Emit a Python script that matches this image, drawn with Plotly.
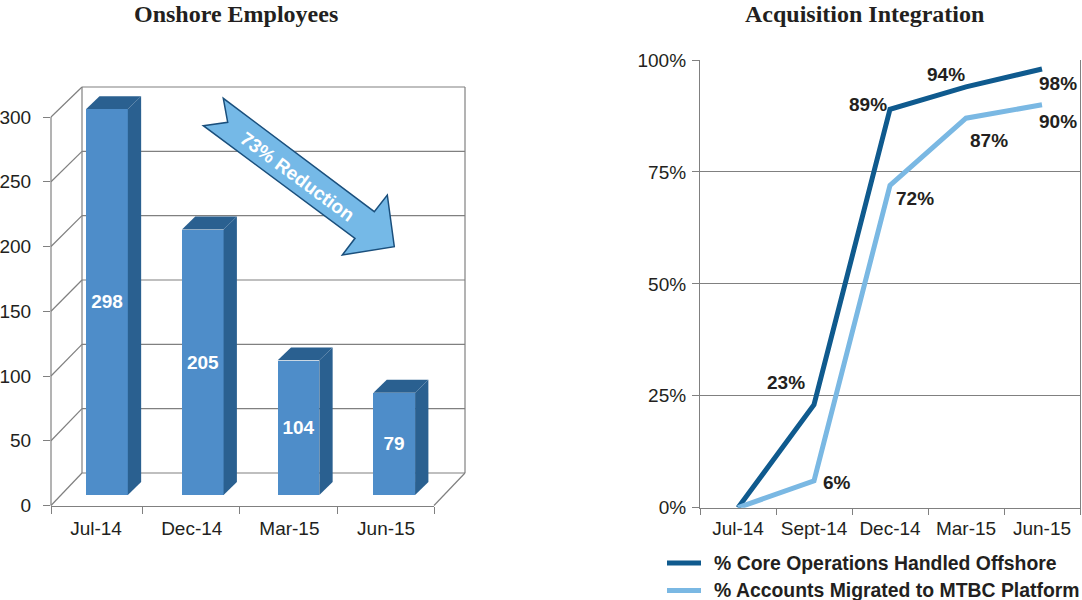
import plotly.graph_objects as go

# left chart
employeeMonths = ["Jul-14", "Dec-14", "Mar-15", "Jun-15"]
employeeCounts = [298, 205, 104, 79]
employeeTicks = [0, 50, 100, 150, 200, 250, 300]

# right chart
integrationMonths = ["Jul-14", "Sept-14", "Dec-14", "Mar-15", "Jun-15"]
coreOffshore = [0, 23, 89, 94, 98]
accountsMigrated = [0, 6, 72, 87, 90]
integrationTicks = [0, 25, 50, 75, 100]
coreName = "% Core Operations Handled Offshore"
accountsName = "% Accounts Migrated to MTBC Platform"

# label offsets in pixels from the point they describe
coreOffsets = [None, (-28, 22), (-22, 5), (-20, 12), (16, -15)]
accountOffsets = [None, (23, -2), (25, -13), (23, -22), (16, -17)]

WIDTH, HEIGHT = 1082, 600
TEXT = "#231f20"
AXIS = "#808080"
BAR_FRONT = "#4e8dc9"
BAR_DARK = "#2a6090"
DARK_LINE = "#0f5a8e"
LIGHT_LINE = "#7ab8e3"
SANS = "Liberation Sans"

# pixel box of the front plane of the left chart
LEFT_X = (51, 434)
LEFT_Y = (505.5, 117)
BACK_Y = (473, 87)  # same for the back wall
LEFT_TOP = 325  # the y axis runs on above 300 so the bar tops are not clipped
WALL_DX = 31  # wall depth
BAR_SHIFT = 0.085
BAR_WIDTH = 0.435
BAR_BASE = 8.1
SIDE_DX, SIDE_DY = 0.139, 10  # bar depth in data units


def px(x):
    return x / WIDTH


def py(y):
    return 1 - y / HEIGHT


def frontY(value):
    return LEFT_Y[0] + (LEFT_Y[1] - LEFT_Y[0]) * value / 300


def backY(value):
    return BACK_Y[0] + (BACK_Y[1] - BACK_Y[0]) * value / 300


def pxLine(x0, y0, x1, y1, color=AXIS, width=1.2):
    return dict(type="line", xref="paper", yref="paper", layer="below",
                x0=px(x0), y0=py(y0), x1=px(x1), y1=py(y1),
                line=dict(color=color, width=width))


def pxText(text, x, y, font, xanchor="center", angle=0):
    return dict(text=f"<b>{text}</b>", xref="paper", yref="paper", x=px(x), y=py(y),
                xanchor=xanchor, yanchor="middle", textangle=angle, showarrow=False,
                font=font)


fig = go.Figure()

# the front faces
fig.add_trace(go.Bar(
    x=[i + BAR_SHIFT for i in range(len(employeeCounts))],
    y=employeeCounts,
    base=BAR_BASE,
    width=BAR_WIDTH,
    marker=dict(color=BAR_FRONT, line=dict(width=0)),
    text=employeeCounts,
    textposition="inside",
    insidetextanchor="middle",
    textangle=0,
    textfont=dict(family=SANS, size=19, color="white", weight="bold"),
    showlegend=False,
    hoverinfo="skip",
))

# the sides and tops of the bars
for i, value in enumerate(employeeCounts):
    xl = i + BAR_SHIFT - BAR_WIDTH / 2
    xr = i + BAR_SHIFT + BAR_WIDTH / 2
    top = BAR_BASE + value
    fig.add_trace(go.Scatter(
        x=[xr, xr + SIDE_DX, xr + SIDE_DX, xr, xr],
        y=[BAR_BASE, BAR_BASE + SIDE_DY, top + SIDE_DY, top, BAR_BASE],
        mode="lines", fill="toself", fillcolor=BAR_DARK,
        line=dict(width=0, color=BAR_DARK),
        showlegend=False, hoverinfo="skip",
    ))
    fig.add_trace(go.Scatter(
        x=[xl, xl + SIDE_DX, xr + SIDE_DX, xr, xl],
        y=[top, top + SIDE_DY, top + SIDE_DY, top, top],
        mode="lines", fill="toself", fillcolor=BAR_DARK,
        line=dict(width=0, color=BAR_DARK),
        showlegend=False, hoverinfo="skip",
    ))

# right chart lines
fig.add_trace(go.Scatter(
    x=integrationMonths, y=coreOffshore, xaxis="x2", yaxis="y2",
    mode="lines", name=coreName, showlegend=False,
    line=dict(color=DARK_LINE, width=5),
))
fig.add_trace(go.Scatter(
    x=integrationMonths, y=accountsMigrated, xaxis="x2", yaxis="y2",
    mode="lines", name=accountsName, showlegend=False,
    line=dict(color=LIGHT_LINE, width=5),
))

# y axis line and the 3D box behind the bars
shapes = [
    pxLine(LEFT_X[0], frontY(0), LEFT_X[0], frontY(300)),
    pxLine(LEFT_X[0] + WALL_DX, backY(0), LEFT_X[0] + WALL_DX, backY(300)),
    pxLine(LEFT_X[1] + WALL_DX, backY(0), LEFT_X[1] + WALL_DX, backY(300)),
    pxLine(LEFT_X[1], frontY(0), LEFT_X[1] + WALL_DX, backY(0)),
]
for tick in employeeTicks:
    shapes.append(pxLine(LEFT_X[0], frontY(tick), LEFT_X[0] + WALL_DX, backY(tick)))
    shapes.append(pxLine(LEFT_X[0] + WALL_DX, backY(tick), LEFT_X[1] + WALL_DX, backY(tick)))

# big arrow
arrowPoints = [(223.3, 98.3), (227.7, 122.3), (203.3, 125.7), (355, 238.3), (342.3, 255),
               (394.3, 246.7), (387.3, 195), (374.3, 211.7)]
arrowPath = "M" + " L".join(f"{px(x):.5f},{py(y):.5f}" for x, y in arrowPoints) + " Z"
shapes.append(dict(type="path", xref="paper", yref="paper", path=arrowPath, layer="above",
                   fillcolor="#75b9e7", line=dict(color="#1a4f7c", width=1.5)))

# legend keys, the built in legend cannot sit this close to the bottom edge
shapes.append(pxLine(667, 563, 701, 563, DARK_LINE, 5))
shapes.append(pxLine(667, 590.5, 701, 590.5, LIGHT_LINE, 5))

titleFont = dict(family="Liberation Serif", size=24, color=TEXT)
legendFont = dict(family=SANS, size=19.4, color=TEXT)
annotations = [
    pxText("Onshore Employees", 236, 14, titleFont),
    pxText("Acquisition Integration", 864, 14, titleFont),
    pxText("73% Reduction", 297, 177, dict(family=SANS, size=19, color="white"), angle=36.5),
    pxText(coreName, 712, 563, legendFont, xanchor="left"),
    pxText(accountsName, 712, 590, legendFont, xanchor="left"),
]

for values, offsets in ((coreOffshore, coreOffsets), (accountsMigrated, accountOffsets)):
    for month, value, offset in zip(integrationMonths, values, offsets):
        if offset is None:
            continue
        annotations.append(dict(
            text=f"<b>{value}%</b>", xref="x2", yref="y2", x=month, y=value,
            xshift=offset[0], yshift=offset[1], showarrow=False,
            font=dict(family=SANS, size=19, color=TEXT),
        ))

tickFont = dict(family=SANS, size=19, color=TEXT)
pxPerUnit = (LEFT_Y[0] - LEFT_Y[1]) / 300

fig.update_layout(
    width=WIDTH,
    height=HEIGHT,
    margin=dict(l=0, r=0, t=0, b=0, autoexpand=False),
    paper_bgcolor="white",
    plot_bgcolor="rgba(0,0,0,0)",
    shapes=shapes,
    annotations=annotations,
    bargap=0,
    showlegend=False,
    xaxis=dict(
        domain=[px(LEFT_X[0]), px(LEFT_X[1])], range=[-0.5, 3.5], anchor="y", automargin=False,
        tickvals=[-0.03, 0.97, 1.99, 3.0], ticktext=employeeMonths, tickangle=0,
        ticks="", showgrid=False, zeroline=False,
        showline=True, linecolor=AXIS, linewidth=1.2,
        minor=dict(tickvals=[-0.5, 0.46, 1.47, 2.49, 3.5], ticks="outside", ticklen=7,
                   tickcolor=AXIS, tickwidth=1.2, showgrid=False),
        tickfont=tickFont, ticklabelstandoff=6,
    ),
    yaxis=dict(
        domain=[py(LEFT_Y[0]), py(LEFT_Y[0] - LEFT_TOP * pxPerUnit)], range=[0, LEFT_TOP],
        anchor="x", automargin=False,
        tickvals=employeeTicks, ticks="outside", ticklen=7, tickcolor=AXIS, tickwidth=1.2,
        showgrid=False, zeroline=False, showline=False,
        tickfont=tickFont, ticklabelstandoff=8,
    ),
    xaxis2=dict(
        domain=[px(700), px(1080)], anchor="y2", type="category", automargin=False,
        categoryorder="array", categoryarray=integrationMonths, range=[-0.5, 4.5], tickangle=0,
        tickson="boundaries", ticks="outside", ticklen=6, tickcolor=AXIS, tickwidth=1.2,
        showgrid=False, zeroline=False, showline=True, linecolor=AXIS, linewidth=1.2,
        tickfont=tickFont, ticklabelstandoff=3,
    ),
    yaxis2=dict(
        domain=[py(507.7), py(60)], range=[0, 100], anchor="x2", automargin=False,
        tickvals=integrationTicks, ticktext=[f"{t}%" for t in integrationTicks],
        ticks="outside", ticklen=7, tickcolor=AXIS, tickwidth=1.2,
        showgrid=True, gridcolor=AXIS, gridwidth=1.2, zeroline=False,
        showline=True, linecolor=AXIS, linewidth=1.2, mirror=True,
        tickfont=tickFont, ticklabelstandoff=2,
    ),
)

# the page's default body margin would push the figure off the window
fig.write_html("out.html", config={"displayModeBar": False},
               post_script="document.body.style.margin = '0';")
